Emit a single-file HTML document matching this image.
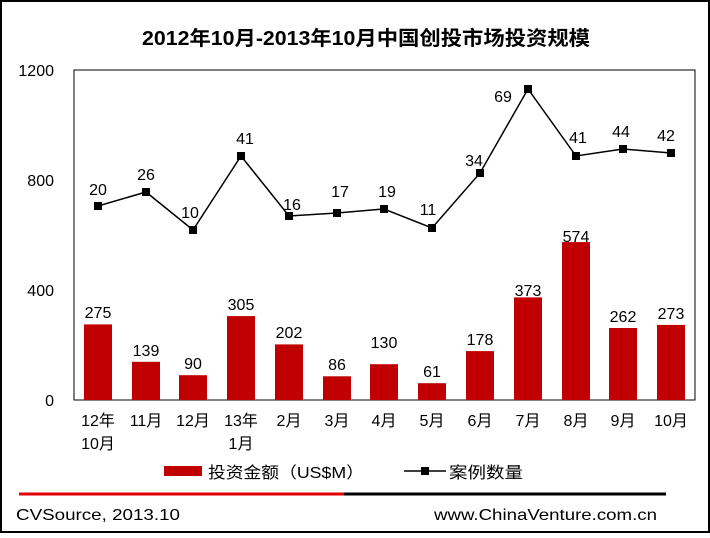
<!DOCTYPE html>
<html><head><meta charset="utf-8"><style>
body{margin:0;width:710px;height:533px;overflow:hidden;background:#fff}
svg text{font-family:"Liberation Sans","Noto Sans CJK SC",sans-serif}
</style></head><body>
<svg width="710" height="533" viewBox="0 0 710 533">
<rect x="1" y="1" width="708" height="531" fill="#fff" stroke="#000" stroke-width="2"/>
<text x="142" y="45" font-size="20" font-weight="bold" textLength="448" lengthAdjust="spacingAndGlyphs">2012年10月-2013年10月中国创投市场投资规模</text>
<rect x="74" y="70" width="621" height="330" fill="none" stroke="#000" stroke-width="1"/>
<g font-size="16" text-anchor="end">
<text x="54" y="76">1200</text><text x="54" y="186">800</text><text x="54" y="296">400</text><text x="54" y="406">0</text>
</g>
<g fill="#c00000">
<rect x="84" y="324.4" width="28" height="75.6"/>
<rect x="132" y="361.8" width="28" height="38.2"/>
<rect x="179" y="375.2" width="28" height="24.8"/>
<rect x="227" y="316.1" width="28" height="83.9"/>
<rect x="275" y="344.4" width="28" height="55.6"/>
<rect x="323" y="376.3" width="28" height="23.7"/>
<rect x="370" y="364.2" width="28" height="35.8"/>
<rect x="418" y="383.2" width="28" height="16.8"/>
<rect x="466" y="351.1" width="28" height="48.9"/>
<rect x="514" y="297.4" width="28" height="102.6"/>
<rect x="562" y="242.1" width="28" height="157.9"/>
<rect x="609" y="328" width="28" height="72"/>
<rect x="657" y="324.9" width="28" height="75.1"/>
</g>
<g font-size="16" text-anchor="middle">
<text x="98" y="318">275</text><text x="146" y="356">139</text><text x="193" y="369">90</text><text x="241" y="310">305</text><text x="289" y="338">202</text><text x="337" y="370">86</text><text x="384" y="348">130</text><text x="432" y="377">61</text><text x="480" y="345">178</text><text x="528" y="296">373</text><text x="576" y="242">574</text><text x="623" y="322">262</text><text x="671" y="319">273</text>
</g>
<polyline fill="none" stroke="#000" stroke-width="1.5" points="98,206 146,192 193,230 241,156 289,216 337,213 384,209 432,228 480,173 528,89 576,156 623,149 671,153"/>
<g fill="#000">
<rect x="94" y="202" width="8" height="8"/><rect x="142" y="188" width="8" height="8"/><rect x="189" y="226" width="8" height="8"/><rect x="237" y="152" width="8" height="8"/><rect x="285" y="212" width="8" height="8"/><rect x="333" y="209" width="8" height="8"/><rect x="380" y="205" width="8" height="8"/><rect x="428" y="224" width="8" height="8"/><rect x="476" y="169" width="8" height="8"/><rect x="524" y="85" width="8" height="8"/><rect x="572" y="152" width="8" height="8"/><rect x="619" y="145" width="8" height="8"/><rect x="667" y="149" width="8" height="8"/>
</g>
<g font-size="16" text-anchor="middle">
<text x="98" y="195">20</text><text x="146" y="180">26</text><text x="190" y="218">10</text><text x="245" y="144">41</text><text x="292" y="210">16</text><text x="340" y="197">17</text><text x="387" y="197">19</text><text x="428" y="215">11</text><text x="474" y="166">34</text><text x="503" y="102">69</text><text x="578" y="143">41</text><text x="621" y="137">44</text><text x="666" y="141">42</text>
</g>
<g font-size="16" text-anchor="middle">
<text x="98" y="426">12年</text><text x="98" y="449">10月</text>
<text x="146" y="426">11月</text><text x="193" y="426">12月</text>
<text x="241" y="426">13年</text><text x="241" y="449">1月</text>
<text x="289" y="426">2月</text><text x="337" y="426">3月</text><text x="384" y="426">4月</text><text x="432" y="426">5月</text><text x="480" y="426">6月</text><text x="528" y="426">7月</text><text x="576" y="426">8月</text><text x="623" y="426">9月</text><text x="671" y="426">10月</text>
</g>
<rect x="164" y="466" width="38" height="10" fill="#c00000"/>
<text x="208" y="478" font-size="16" textLength="156" lengthAdjust="spacingAndGlyphs">投资金额（US$M）</text>
<line x1="404" y1="471" x2="446" y2="471" stroke="#000" stroke-width="1.5"/>
<rect x="421" y="467" width="8" height="8" fill="#000"/>
<text x="449" y="478" font-size="16" textLength="74" lengthAdjust="spacingAndGlyphs">案例数量</text>
<line x1="19" y1="494" x2="344" y2="494" stroke="#e00000" stroke-width="3"/>
<line x1="344" y1="494" x2="666" y2="494" stroke="#000" stroke-width="3"/>
<text x="16" y="520" font-size="16" textLength="164" lengthAdjust="spacingAndGlyphs">CVSource, 2013.10</text>
<text x="434" y="520" font-size="16" textLength="223" lengthAdjust="spacingAndGlyphs">www.ChinaVenture.com.cn</text>
</svg>
</body></html>
